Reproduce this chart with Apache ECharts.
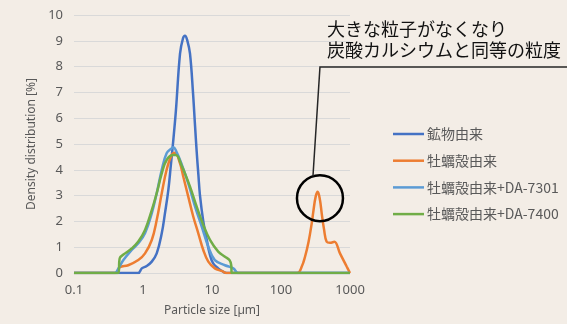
<!DOCTYPE html>
<html>
<head>
<meta charset="utf-8">
<script src="https://cdn.jsdelivr.net/npm/echarts@6/dist/echarts.min.js"></script>
<style>
  html, body { margin: 0; padding: 0; background: #f3ede6; }
  #chart { width: 567px; height: 324px; }
</style>
</head>
<body>
<div id="chart"></div>
<script>
// ---- Data ----
const seriesNames = ['鉱物由来', '牡蠣殻由来', '牡蠣殻由来+DA-7301', '牡蠣殻由来+DA-7400'];
const xTickLabels = ['0.1', '1', '10', '100', '1000'];
const yTickLabels = ['0', '1', '2', '3', '4', '5', '6', '7', '8', '9', '10'];

const mineralSize    = [0.1, 0.85, 0.96, 1.13, 1.34, 1.58, 1.87, 2.08, 2.33, 2.52, 2.75, 3.0, 3.44, 3.8, 4.06, 4.4, 4.8, 5.3, 5.68, 6.0, 6.35, 6.7, 7.48, 8.4, 9.35, 10.4, 12.3, 14.5, 16.3, 1000];
const mineralDensity = [0, 0, 0.18, 0.27, 0.44, 0.76, 1.54, 2.31, 3.22, 4.12, 5.15, 6.3, 8.5, 9.1, 9.2, 9.0, 8.5, 7.0, 5.7, 4.7, 3.8, 3.0, 2.0, 1.28, 0.7, 0.37, 0.18, 0.05, 0, 0];

const oysterSize    = [0.1, 0.42, 0.46, 0.61, 0.855, 1.07, 1.34, 1.58, 1.87, 2.2, 2.6, 2.9, 3.44, 3.84, 4.53, 5.36, 6.33, 7.48, 8.84, 11.0, 13.8, 16.3, 172, 200, 223, 251, 279, 294, 318, 340, 367, 389, 420, 459, 513, 593, 716, 895, 1000];
const oysterDensity = [0, 0, 0.22, 0.3, 0.5, 0.76, 1.28, 2.05, 3.09, 4.0, 4.57, 4.66, 4.25, 3.73, 2.96, 2.18, 1.54, 0.89, 0.44, 0.18, 0.08, 0, 0, 0.25, 0.63, 1.21, 1.93, 2.38, 2.96, 3.15, 2.83, 2.31, 1.7, 1.21, 1.17, 1.21, 0.76, 0.25, 0];

const da7301Size    = [0.1, 0.39, 0.44, 0.52, 0.686, 0.855, 1.07, 1.34, 1.58, 1.87, 2.2, 2.6, 2.75, 3.0, 3.6, 4.53, 5.68, 7.1, 8.84, 11.0, 15.4, 20.4, 24, 1000];
const da7301Density = [0, 0, 0.18, 0.5, 0.89, 1.15, 1.54, 2.31, 3.09, 4.0, 4.64, 4.83, 4.87, 4.75, 4.25, 3.47, 2.57, 1.8, 1.02, 0.5, 0.3, 0.18, 0, 0];

const da7400Size    = [0.1, 0.44, 0.46, 0.55, 0.686, 0.855, 1.07, 1.34, 1.58, 1.87, 2.2, 2.75, 3.0, 3.6, 4.8, 6.0, 7.48, 9.35, 12.3, 15.4, 17.9, 19.0, 19.3, 1000];
const da7400Density = [0, 0, 0.57, 0.76, 0.95, 1.22, 1.67, 2.44, 3.09, 3.86, 4.38, 4.57, 4.57, 4.19, 3.35, 2.57, 1.86, 1.28, 0.83, 0.63, 0.5, 0.3, 0, 0];

const seriesColors = ['#4472C4', '#ED7D31', '#5B9BD5', '#70AD47'];

// annotation target (data coords of the circled peak)
const circleCenter = [367, 2.9];

function zip(xs, ys) { return xs.map((x, i) => [x, ys[i]]); }

const chart = echarts.init(document.getElementById('chart'), null, { renderer: 'canvas' });

const sizesList = [mineralSize, oysterSize, da7301Size, da7400Size];
const densList = [mineralDensity, oysterDensity, da7301Density, da7400Density];

const series = seriesNames.map((name, i) => ({
  name: name,
  type: 'line',
  data: zip(sizesList[i], densList[i]),
  symbol: 'none',
  smooth: 0.4,
  lineStyle: { color: seriesColors[i], width: 2.5 },
  itemStyle: { color: seriesColors[i] },
  z: 2 + i
}));

chart.setOption({
  animation: false,
  backgroundColor: '#f3ede6',
  textStyle: { fontFamily: '"Noto Sans", "Noto Sans CJK JP", sans-serif' },
  grid: { left: 74, right: 217, top: 15, bottom: 51, containLabel: false },
  xAxis: {
    type: 'log',
    logBase: 10,
    min: 0.1,
    max: 1000,
    name: 'Particle size [µm]',
    nameLocation: 'middle',
    nameGap: 32,
    nameTextStyle: { color: '#595959', fontSize: 12 },
    axisLine: { show: true, lineStyle: { color: '#d9d9d9', width: 1 } },
    axisTick: { show: false },
    splitLine: { show: false },
    minorTick: { show: false },
    axisLabel: {
      color: '#595959', fontSize: 13, margin: 11,
      formatter: function (v) {
        const idx = Math.round(Math.log10(v)) + 1;
        return xTickLabels[idx] !== undefined ? xTickLabels[idx] : '';
      }
    }
  },
  yAxis: {
    type: 'value',
    min: 0,
    max: 10,
    interval: 1,
    name: 'Density distribution [%]',
    nameLocation: 'middle',
    nameGap: 36,
    nameTextStyle: { color: '#595959', fontSize: 12 },
    axisLine: { show: false },
    axisTick: { show: false },
    splitLine: { show: true, lineStyle: { color: '#d9d9d9', width: 1 } },
    axisLabel: {
      color: '#595959', fontSize: 13, margin: 11,
      formatter: function (v) { return yTickLabels[Math.round(v)]; }
    }
  },
  legend: {
    orient: 'vertical',
    left: 388,
    top: 122,
    icon: 'rect',
    itemWidth: 31,
    itemHeight: 2.5,
    itemGap: 12.7,
    data: seriesNames,
    textStyle: { color: '#595959', fontSize: 14, lineHeight: 14, padding: [0, 0, 0, -2], fontFamily: '"Noto Sans CJK JP", "Noto Sans", sans-serif' }
  },
  series: series
});

// annotation: circle around the coarse peak + leader line + text
const c = chart.convertToPixel({ gridIndex: 0 }, circleCenter);
const r = 23;
const leaderTopX = c[0];
const leaderTopY = 67;
chart.setOption({
  graphic: [
    {
      type: 'circle',
      shape: { cx: c[0], cy: c[1], r: r },
      style: { fill: 'none', stroke: '#000', lineWidth: 2.5 },
      z: 100
    },
    {
      type: 'polyline',
      shape: { points: [[c[0] - 7, c[1] - r + 1], [leaderTopX, leaderTopY], [567, leaderTopY]] },
      style: { fill: 'none', stroke: '#262626', lineWidth: 1.5 },
      z: 100
    },
    {
      type: 'text',
      x: 327,
      y: 19,
      style: {
        text: '大きな粒子がなくなり\n炭酸カルシウムと同等の粒度',
        font: '18px "Noto Sans CJK JP"',
        fill: '#111',
        lineHeight: 21,
        textVerticalAlign: 'top'
      },
      z: 100
    }
  ]
});
</script>
</body>
</html>
